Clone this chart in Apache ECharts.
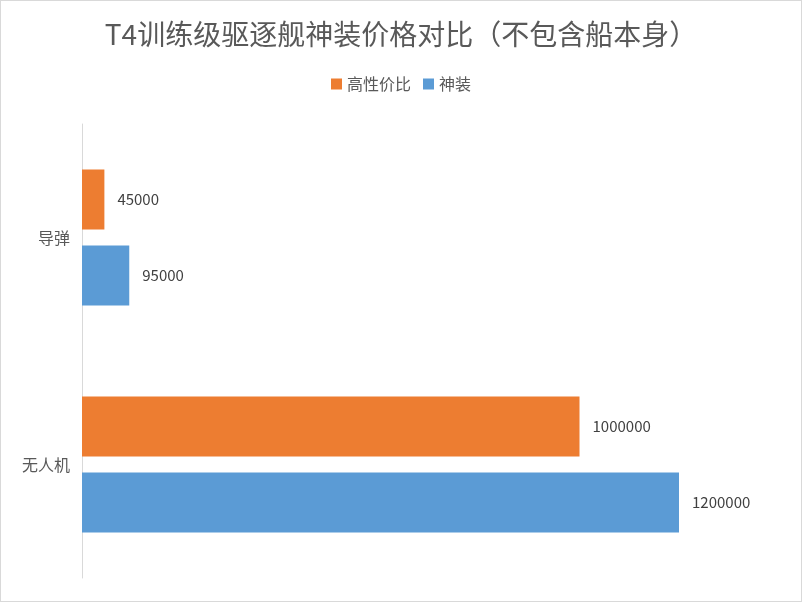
<!DOCTYPE html>
<html><head><meta charset="utf-8">
<script src="https://cdn.jsdelivr.net/npm/echarts@6/dist/echarts.min.js"></script>
<style>html,body{margin:0;padding:0}#c{width:802px;height:602px;box-sizing:border-box;border:1px solid #d9d9d9}</style>
</head><body><div id="c"></div>
<script>
const categories = ['导弹', '无人机'];
const seriesNames = ['高性价比', '神装'];
const valueCost = [45000, 1000000];
const valueGod = [95000, 1200000];
const chart = echarts.init(document.getElementById('c'));
const font = '"Noto Sans CJK SC", sans-serif';
chart.setOption({
  animation: false,
  title: { text: 'T4训练级驱逐舰神装价格对比（不包含船本身）', left: 'center', top: 14,
    textStyle: { fontFamily: font, fontSize: 28, fontWeight: 'normal', color: '#595959' } },
  legend: { top: 70, left: 'center', itemWidth: 11, itemHeight: 11, icon: 'rect', itemGap: 12,
    textStyle: { fontFamily: font, fontSize: 16, color: '#595959' } },
  grid: { left: 81, right: 122, top: 123, bottom: 23, containLabel: false },
  xAxis: { type: 'value', min: 0, max: 1200000, show: false },
  yAxis: { type: 'category', data: categories, inverse: true,
    axisLine: { lineStyle: { color: '#d9d9d9' } }, axisTick: { show: false },
    axisLabel: { fontFamily: font, fontSize: 16, color: '#595959', margin: 12 } },
  series: [
    { name: seriesNames[0], type: 'bar', data: valueCost, barWidth: 60, barGap: '27%',
      itemStyle: { color: '#ed7d31' },
      label: { show: true, position: 'right', distance: 13, fontFamily: font, fontSize: 15, color: '#404040' } },
    { name: seriesNames[1], type: 'bar', data: valueGod, barWidth: 60,
      itemStyle: { color: '#5b9bd5' },
      label: { show: true, position: 'right', distance: 13, fontFamily: font, fontSize: 15, color: '#404040' } }
  ]
});
</script></body></html>
